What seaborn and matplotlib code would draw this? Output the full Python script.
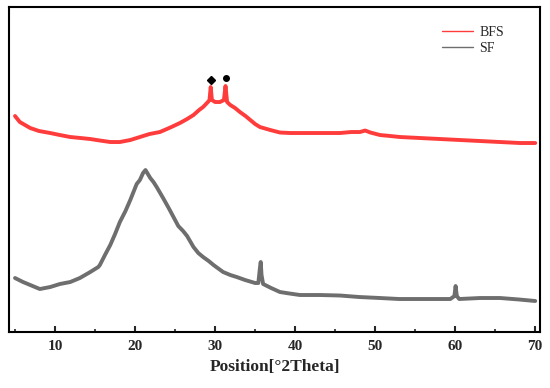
import matplotlib
matplotlib.use('Agg')
import matplotlib.pyplot as plt
from matplotlib.ticker import MultipleLocator
import seaborn as sns

# XRD patterns, intensity in arbitrary units
bfs_theta = [5.0, 5.6, 6.9, 8.0, 9.4, 10.6, 11.9, 13.2, 14.4, 15.6, 16.9, 18.1,
             19.4, 20.6, 21.8, 23.1, 24.4, 25.6, 26.5, 27.3, 28.0, 28.5, 29.1,
             29.3, 29.45, 29.6, 30.0, 30.6, 31.1, 31.3, 31.5, 31.9, 32.5, 33.1,
             33.8, 34.4, 35.0, 35.6, 36.9, 38.1, 39.4, 40.6, 43.1, 45.6, 47.0,
             48.1, 48.75, 49.4, 50.6, 51.9, 53.1, 55.6, 58.1, 60.6, 63.1, 65.6,
             68.1, 70.0]
bfs_int = [216, 210, 204, 201, 199, 197, 195, 194, 193, 191.5, 190, 190,
           192, 195, 198, 200, 204.5, 209, 213, 217, 222, 225, 230,
           232, 245, 232, 230, 230, 232, 246, 230, 227, 224, 220,
           216, 212, 208, 205, 202, 199.5, 199, 199, 199, 199, 200,
           200, 201.5, 199.5, 197, 196, 195, 194, 193, 192, 191, 190,
           189, 189]

sf_theta = [5.0, 6.0, 6.9, 8.1, 9.4, 10.6, 11.9, 13.1, 14.4, 15.4, 15.6, 16.3,
            16.9, 17.5, 18.1, 18.8, 19.4, 20.2, 20.6, 21.0, 21.3, 21.9, 22.3,
            22.7, 23.5, 24.2, 24.8, 25.4, 26.0, 26.5, 27.3, 27.9, 28.5, 29.2,
            29.8, 31.0, 31.9, 32.7, 33.75, 35.0, 35.4, 35.6, 35.7, 35.8, 36.0,
            36.25, 37.0, 38.1, 39.3, 40.6, 43.1, 45.6, 48.0, 50.6, 53.0, 55.6,
            58.0, 59.4, 59.9, 60.05, 60.2, 60.5, 63.1, 65.6, 68.0, 70.0]
sf_int = [54, 50, 47, 43, 45, 48, 50, 54, 60, 65, 67, 78,
          87, 98, 110, 121, 132, 148, 152, 159, 162, 154, 150,
          145, 134, 124, 115, 106, 101, 96, 85, 79, 75, 71,
          67, 60, 57, 55, 52, 49, 49, 64, 70, 57, 48,
          47, 44, 40, 38.5, 37, 37, 36.5, 35, 34, 33, 33,
          33, 33, 36, 46, 36, 33, 34, 34, 32.5, 31]

# phase markers above the BFS peaks
diamond_theta = [29.45]
diamond_int = [252]
circle_theta = [31.3]
circle_int = [254]

sns.set_style('white')
plt.rcParams['font.family'] = ['Liberation Serif', 'DejaVu Serif']

fig = plt.figure(figsize=(5.5, 3.88), dpi=100)
ax = fig.add_axes([0.0164, 0.1443, 0.9655, 0.8376])

sns.lineplot(x=bfs_theta, y=bfs_int, ax=ax, color='#ff3c3c', lw=2.8, label='BFS')
sns.lineplot(x=sf_theta, y=sf_int, ax=ax, color='#6e6e6e', lw=2.8, label='SF')
ax.plot(diamond_theta, diamond_int, 'D', color='black', ms=4)
ax.plot(circle_theta, circle_int, 'o', color='black', ms=4)

ax.set_xlim(4.25, 70.6)
ax.set_ylim(0, 325)
ax.set_yticks([])
ax.xaxis.set_major_locator(MultipleLocator(10))
ax.xaxis.set_minor_locator(MultipleLocator(5))
ax.tick_params(axis='x', which='major', direction='in', length=4, width=1.5,
               labelsize=11, pad=6, bottom=True)
ax.tick_params(axis='x', which='minor', direction='in', length=2, width=1.2, bottom=True)
for lab in ax.get_xticklabels():
    lab.set_fontweight('bold')
for sp in ax.spines.values():
    sp.set_color('black')
    sp.set_linewidth(1.5)

ax.set_xlabel('Position[°2Theta]', fontsize=12.5, fontweight='bold', labelpad=4)
ax.set_ylabel('')

leg = ax.legend(loc='upper left', bbox_to_anchor=(435 / 550, 1 - 19 / 388),
                bbox_transform=fig.transFigure, frameon=False, fontsize=10,
                borderpad=0, handlelength=2.2, handletextpad=0.5, labelspacing=0.2)
for line in leg.get_lines():
    line.set_linewidth(1.0)

fig.savefig('out.png', dpi=100)
